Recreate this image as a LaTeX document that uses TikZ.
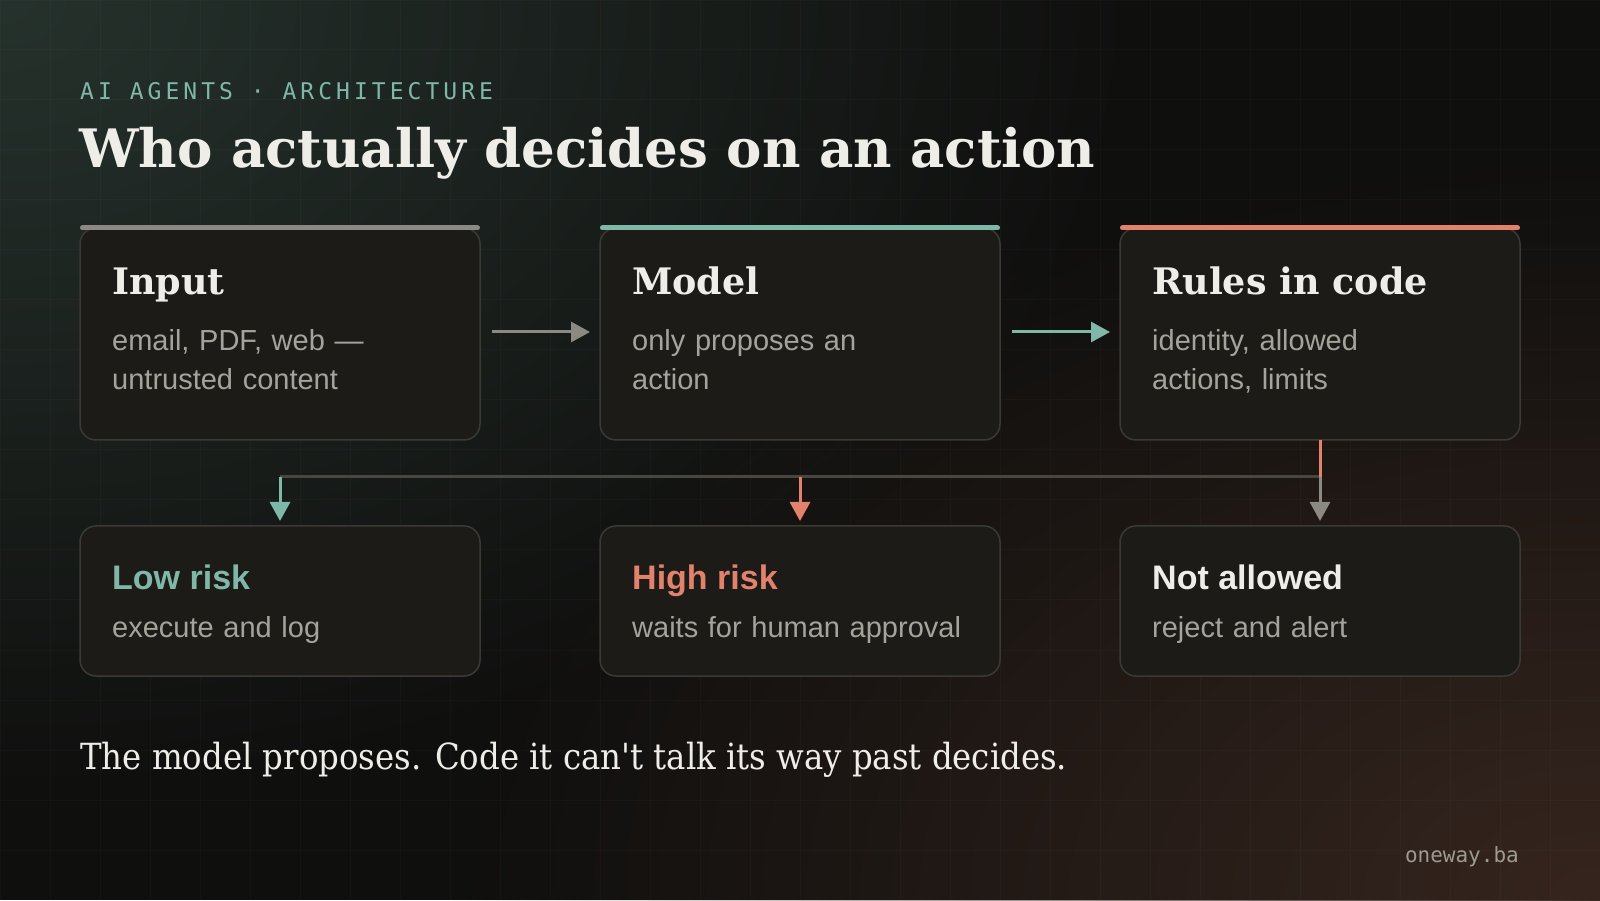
\documentclass[tikz,border=0pt]{standalone}
\usepackage{fontspec}
\setmainfont{Liberation Sans}
\newfontfamily\headserif{DejaVu Serif}
\newfontfamily\closeserif{DejaVu Serif Condensed}
\newfontfamily\kickermono[LetterSpace=17.5]{DejaVu Sans Mono}
\newfontfamily\plainmono{DejaVu Sans Mono}
\usetikzlibrary{arrows.meta, positioning, calc, fadings}

\definecolor{bgbase}{HTML}{0F0F0E}
\definecolor{glowgreen}{HTML}{26322D}
\definecolor{glowbrown}{HTML}{36251E}
\definecolor{cardfill}{HTML}{1C1B18}
\definecolor{cardline}{HTML}{3B3934}
\definecolor{inktitle}{HTML}{EFEDE8}
\definecolor{inkbody}{HTML}{A6A39B}
\definecolor{accentgray}{HTML}{8C8882}
\definecolor{accentteal}{HTML}{7FB8A8}
\definecolor{accentcoral}{HTML}{E2826C}
\definecolor{busline}{HTML}{48463F}
\definecolor{inkmono}{HTML}{9E9A92}

\tikzfading[name=glowfade, inner color=transparent!0, outer color=transparent!100]

\tikzset{
  card/.style={draw=cardline, line width=1.5pt, fill=cardfill, rounded corners=16pt,
    minimum width=400pt, inner sep=0pt, outer sep=0pt},
  topcard/.style={card, minimum height=212pt},
  lowcard/.style={card, minimum height=150pt},
  cardbar/.style={line width=5pt, line cap=round},
  cardtitle/.style={anchor=base west, inner sep=0pt, text=inktitle,
    font=\headserif\bfseries\fontsize{36.5}{40}\selectfont},
  cardbody/.style={anchor=base west, inner sep=0pt, text=inkbody, text width=340pt,
    align=left, font=\fontsize{29}{39}\selectfont},
  verdict/.style={anchor=base west, inner sep=0pt, font=\bfseries\fontsize{34}{36}\selectfont},
  flow/.style={line width=3pt, -{Triangle[length=19pt, width=20pt]}},
  bus/.style={line width=3pt, draw=busline},
  gridline/.style={white, opacity=0.025, line width=1pt},
}

\begin{document}
\begin{tikzpicture}[x=1pt, y=1pt]
  \useasboundingbox (0,0) rectangle (1600,900);

  % Background
  \fill[bgbase] (0,0) rectangle (1600,900);
  \fill[glowgreen, path fading=glowfade] (0,900) ellipse (1150 and 800);
  \fill[glowbrown, path fading=glowfade] (1600,0) ellipse (1150 and 750);

  % Grid
  \draw[gridline, step=50pt] (0,0) grid (1600,900);

  % Header
  \node[anchor=base west, inner sep=0pt, text=accentteal,
    font=\kickermono\fontsize{23}{26}\selectfont] (kicker) at (80,800)
    {AI AGENTS · ARCHITECTURE};
  \node[anchor=base west, inner sep=0pt, text=inktitle,
    font=\headserif\bfseries\fontsize{53}{60}\selectfont] (headline) at (79,732)
    {Who actually decides on an action};

  % Top row
  \node[topcard] (input) at (280,566) {};
  \node[topcard, right=120pt of input] (model) {};
  \node[topcard, right=120pt of model] (rules) {};

  % Bottom row
  \node[lowcard, below=86pt of input.south, anchor=north] (low) {};
  \node[lowcard, right=120pt of low] (high) {};
  \node[lowcard, right=120pt of high] (deny) {};

  % Accent bars
  \foreach \card/\tone in {input/accentgray, model/accentteal, rules/accentcoral}
    \draw[cardbar, \tone] ([xshift=2.5pt]\card.north west) -- ([xshift=-2.5pt]\card.north east);

  % Card texts
  \node[cardtitle] (inputtitle) at ([xshift=32pt, yshift=-67pt]input.north west) {Input};
  \node[cardbody] (inputbody) at ([xshift=32pt, yshift=-123pt]input.north west)
    {email, PDF, web —\\untrusted content};
  \node[cardtitle] (modeltitle) at ([xshift=32pt, yshift=-67pt]model.north west) {Model};
  \node[cardbody] (modelbody) at ([xshift=32pt, yshift=-123pt]model.north west)
    {only proposes an\\action};
  \node[cardtitle] (rulestitle) at ([xshift=32pt, yshift=-67pt]rules.north west) {Rules in code};
  \node[cardbody] (rulesbody) at ([xshift=32pt, yshift=-123pt]rules.north west)
    {identity, allowed\\actions, limits};

  \node[verdict, text=accentteal] (lowtitle) at ([xshift=32pt, yshift=-64pt]low.north west) {Low risk};
  \node[cardbody] (lowbody) at ([xshift=32pt, yshift=-112pt]low.north west) {execute and log};
  \node[verdict, text=accentcoral] (hightitle) at ([xshift=32pt, yshift=-64pt]high.north west) {High risk};
  \node[cardbody] (highbody) at ([xshift=32pt, yshift=-112pt]high.north west) {waits for human approval};
  \node[verdict, text=inktitle] (denytitle) at ([xshift=32pt, yshift=-64pt]deny.north west) {Not allowed};
  \node[cardbody] (denybody) at ([xshift=32pt, yshift=-112pt]deny.north west) {reject and alert};

  % Flow arrows
  \draw[flow, accentgray] ([xshift=12pt, yshift=2pt]input.east) -- ([xshift=-10pt, yshift=2pt]model.west);
  \draw[flow, accentteal] ([xshift=12pt, yshift=2pt]model.east) -- ([xshift=-10pt, yshift=2pt]rules.west);

  % Branch
  \coordinate (split) at ([yshift=-37pt]rules.south);
  \draw[bus] (split) -- (split -| low.north);
  \draw[line width=3pt, accentcoral] (rules.south) -- (split);
  \foreach \card/\tone in {low/accentteal, high/accentcoral, deny/accentgray}
    \draw[flow, \tone] (split -| \card.north) -- ([yshift=5pt]\card.north);

  % Footer
  \node[anchor=base west, inner sep=0pt, text=inktitle,
    font=\closeserif\fontsize{36}{40}\selectfont] (closing) at (80,131)
    {The model proposes. Code it can\textquotesingle t talk its way past decides.};
  \node[anchor=base east, inner sep=0pt, text=inkmono,
    font=\plainmono\fontsize{21}{24}\selectfont] (signature) at (1519,38) {oneway.ba};
\end{tikzpicture}
\end{document}
